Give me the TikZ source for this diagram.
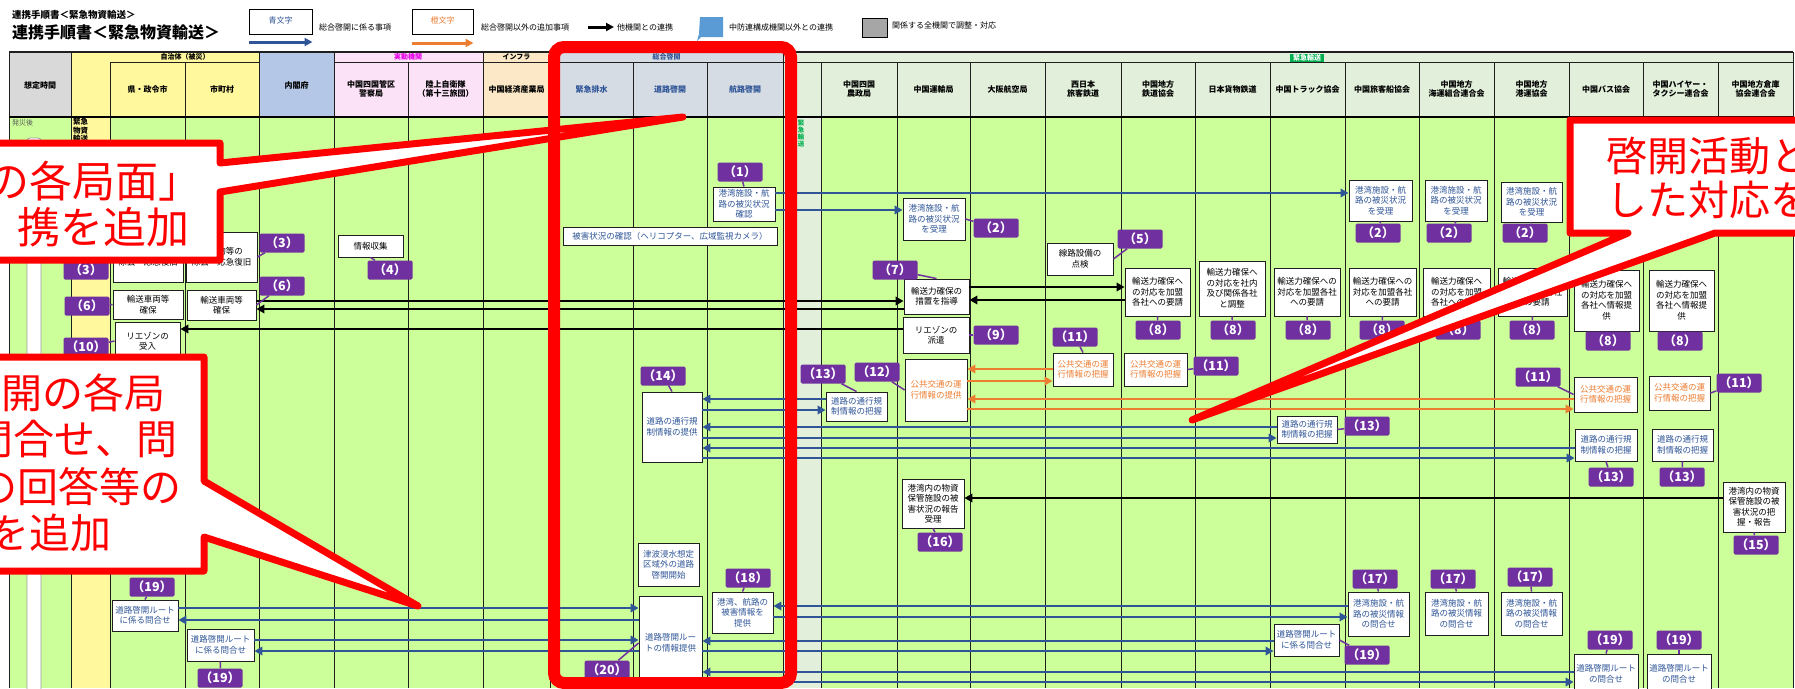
\documentclass[tikz,border=0pt]{standalone}
\usepackage{fontspec}
\setmainfont{Noto Sans CJK JP}
\usetikzlibrary{arrows.meta}
\definecolor{bgreen}{HTML}{CCFF99}
\definecolor{byellow}{HTML}{FFF89C}
\definecolor{hgray}{HTML}{D9D9D9}
\definecolor{hblue}{HTML}{B4C7E7}
\definecolor{hpink}{HTML}{FBE2F7}
\definecolor{horange}{HTML}{FCE8C6}
\definecolor{hsteel}{HTML}{D6DCE4}
\definecolor{hlgreen}{HTML}{E2EFDA}
\definecolor{tblue}{HTML}{2F5597}
\definecolor{torange}{HTML}{ED7D31}
\definecolor{lpurple}{HTML}{7030A0}
\definecolor{gline}{HTML}{1F1F1F}
\definecolor{calred}{HTML}{FF0000}
\definecolor{legblue}{HTML}{5B9BD5}
\definecolor{leggray}{HTML}{A6A6A6}
\definecolor{grplabel}{HTML}{00B050}
\definecolor{magent}{HTML}{E600E6}
\newcommand\bx[7]{\pgfmathsetmacro\bxw{#4-#2}\pgfmathsetmacro\bxh{#5-#3}\pgfmathsetmacro\bxx{(#2+#4)/2}\pgfmathsetmacro\bxy{(#3+#5)/2}\node[bx,text=#6,minimum width=\bxw pt,minimum height=\bxh pt] (#1) at (\bxx,\bxy) {#7};}
\newcommand\lb[3]{\node[lab] (#1) at (#2) {（#3）};}
\begin{document}
\begin{tikzpicture}[x=1pt,y=-1pt,
  bx/.style={draw=gline, fill=white, line width=0.9pt, inner sep=0pt, align=center, font=\fontsize{8.5}{10.5}\selectfont},
  lab/.style={fill=lpurple, text=white, font=\bfseries\fontsize{12.5}{12.5}\selectfont, minimum width=45pt, minimum height=19pt, inner sep=0pt, rounded corners=1.5pt},
  tl/.style={lpurple, line width=1.5pt},
  barr/.style={tblue, line width=2.8pt, -{Triangle[length=8pt,width=8.5pt]}},
  oarr/.style={torange, line width=2.8pt, -{Triangle[length=8pt,width=8.5pt]}},
  karr/.style={black, line width=2.8pt, -{Triangle[length=8pt,width=8.5pt]}},
  hd/.style={font=\bfseries\fontsize{8}{9.5}\selectfont, align=center, inner sep=0pt},
  gl/.style={font=\bfseries\fontsize{7}{7}\selectfont, inner sep=0pt},
  lgt/.style={font=\fontsize{8}{8}\selectfont, inner sep=0pt, anchor=west},
  colline/.style={gline, line width=1pt},
  callout/.style={fill=white, draw=calred, line width=7pt, line join=round},
  ct/.style={text=calred, font=\fontsize{41}{44}\selectfont, inner sep=0pt}]
\useasboundingbox (0,0) rectangle (1795,688);
\clip (0,0) rectangle (1795,688);
\fill[white] (0,0) rectangle (1795,688);

% ---------- title and legend ----------
\node[anchor=west, font=\bfseries\fontsize{9.5}{10}\selectfont, inner sep=0pt] (t1) at (12,15) {連携手順書＜緊急物資輸送＞};
\node[anchor=west, font=\bfseries\fontsize{16}{17}\selectfont, inner sep=0pt] (t2) at (12,32) {連携手順書＜緊急物資輸送＞};
\node[draw=black, line width=1pt, minimum width=63pt, minimum height=25pt, inner sep=0pt, text=tblue, font=\fontsize{8}{8}\selectfont] (lg1) at (280.5,21.5) {\raisebox{3pt}{青文字}};
\draw[tblue, line width=3pt, -{Triangle[length=8pt,width=8pt]}] (lg1.west |- 0,42) -- (lg1.east |- 0,42);
\node[lgt] (lt1) at (319,27) {総合啓開に係る事項};
\node[draw=black, line width=1pt, minimum width=61pt, minimum height=25pt, inner sep=0pt, text=torange, font=\fontsize{8}{8}\selectfont] (lg2) at (442.5,21.5) {\raisebox{3pt}{橙文字}};
\draw[torange, line width=3pt, -{Triangle[length=8pt,width=8pt]}] (lg2.west |- 0,43) -- (lg2.east |- 0,43);
\node[lgt] (lt2) at (481,27) {総合啓開以外の追加事項};
\coordinate (ka1) at (588,27);
\coordinate (ka2) at (614,27);
\draw[black, line width=3pt, -{Triangle[length=8pt,width=8pt]}] (ka1) -- (ka2);
\node[lgt] (lt3) at (617,27) {他機関との連携};
\fill[legblue] (700,17) -- (723,17) -- (723,37) -- (701,37) -- (697,41) -- (699,34) -- cycle;
\node[lgt] (lt4) at (729,27) {中防連構成機関以外との連携};
\node[draw=black, line width=1pt, fill=leggray, minimum width=25pt, minimum height=19pt, inner sep=0pt] (lg3) at (874.5,27.5) {};
\node[lgt] (lt5) at (892,25) {関係する全機関で調整・対応};

% ---------- header fills ----------
\fill[hgray] (9,52) rectangle (71,117);
\fill[byellow] (71,52) rectangle (259,117);
\fill[hblue] (259,52) rectangle (334,117);
\fill[hpink] (334,52) rectangle (483,117);
\fill[horange] (483,52) rectangle (550,117);
\fill[hsteel] (550,52) rectangle (783,117);
\fill[hlgreen] (783,52) rectangle (1793,117);
% ---------- body fills ----------
\fill[bgreen] (9,117) rectangle (71,688);
\fill[byellow] (71,117) rectangle (110,688);
\fill[bgreen] (110,117) rectangle (783,688);
\fill[hlgreen] (783,117) rectangle (821,688);
\fill[bgreen] (821,117) rectangle (1793,688);

% ---------- grid ----------
\foreach \x in {9,71,110,185,259,334,408,483,550,633,707,783,821,897,970,1045,1121,1195,1270,1345,1419,1494,1569,1643,1718,1793}
  \draw[colline] (\x,117) -- (\x,688);
\foreach \x in {9,71,259,334,483,550,783,1793}
  \draw[colline] (\x,52) -- (\x,117);
\foreach \x in {110,185,408,633,707,821,897,970,1045,1121,1195,1270,1345,1419,1494,1569,1643,1718}
  \draw[colline] (\x,62) -- (\x,117);
\draw[gline, line width=1.5pt] (9,52) -- (1793,52);
\draw[colline] (110,62) -- (259,62);
\draw[colline] (334,62) -- (1793,62);
\draw[black, line width=2pt] (9,117) -- (1793,117);

% ---------- header texts ----------
\node[gl] (g1) at (185,57) {自治体（被災）};
\node[gl, text=magent] (g2) at (408,57) {実動機関};
\node[gl] (g3) at (516.5,57) {インフラ};
\node[gl, text=tblue] (g4) at (666.5,57) {総合啓開};
\node[gl, fill=grplabel, text=white, inner xsep=3pt, minimum height=8pt] (g5) at (1307,57.5) {緊急輸送};
\node[hd] (h01) at (40,85) {想定時間};
\node[hd] (h02) at (147.5,89) {県・政令市};
\node[hd] (h03) at (222,89) {市町村};
\node[hd] (h04) at (296.5,85) {内閣府};
\node[hd] (h05) at (371,89) {中国四国管区\\警察局};
\node[hd] (h06) at (445.5,89) {陸上自衛隊\\（第十三旅団）};
\node[hd] (h07) at (516.5,89) {中国経済産業局};
\node[hd, text=tblue] (h08) at (591.5,89) {緊急排水};
\node[hd, text=tblue] (h09) at (670,89) {道路啓開};
\node[hd, text=tblue] (h10) at (745,89) {航路啓開};
\node[hd] (h11) at (859,89) {中国四国\\農政局};
\node[hd] (h12) at (933.5,89) {中国運輸局};
\node[hd] (h13) at (1007.5,89) {大阪航空局};
\node[hd] (h14) at (1083,89) {西日本\\旅客鉄道};
\node[hd] (h15) at (1158,89) {中国地方\\鉄道協会};
\node[hd] (h16) at (1232.5,89) {日本貨物鉄道};
\node[hd] (h17) at (1307.5,89) {中国トラック協会};
\node[hd] (h18) at (1382,89) {中国旅客船協会};
\node[hd] (h19) at (1456.5,89) {中国地方\\海運組合連合会};
\node[hd] (h20) at (1531.5,89) {中国地方\\港運協会};
\node[hd] (h21) at (1606,89) {中国バス協会};
\node[hd] (h22) at (1680.5,89) {中国ハイヤー・\\タクシー連合会};
\node[hd] (h23) at (1755.5,89) {中国地方倉庫\\協会連合会};

% ---------- left columns ----------
\node[font=\fontsize{7}{7}\selectfont, text=black!65, anchor=west, inner sep=0pt] (t0) at (12,123) {発災後};
\draw[fill=white, draw=black!40, line width=0.8pt, rounded corners=3pt] (27,138) rectangle (41,700);
\node[font=\bfseries\fontsize{7.5}{8.5}\selectfont, align=left, anchor=north west, inner sep=0pt] (c2t) at (73,118) {緊急\\物資\\輸送};
\node[font=\bfseries\fontsize{6.5}{7}\selectfont, text=grplabel, align=center, anchor=north, inner sep=0pt] (vt) at (801,120) {緊\\急\\輸\\送};

% ---------- boxes ----------
\bx{B1}{713}{187}{775}{221}{tblue}{港湾施設・航\\路の被災状況\\確認}
\bx{B2a}{903}{198}{965}{240}{tblue}{港湾施設・航\\路の被災状況\\を受理}
\bx{B2b}{1349}{180}{1412}{221}{tblue}{港湾施設・航\\路の被災状況\\を受理}
\bx{B2c}{1425}{180}{1487}{221}{tblue}{港湾施設・航\\路の被災状況\\を受理}
\bx{B2d}{1501}{182}{1562}{222}{tblue}{港湾施設・航\\路の被災状況\\を受理}
\bx{Bh}{563}{227}{777}{245}{tblue}{被害状況の確認（ヘリコプター、広域監視カメラ）}
\bx{B3a}{113}{232}{183}{282}{black}{障害物等の\\除去・応急復旧}
\bx{B3b}{186}{232}{257}{282}{black}{障害物等の\\除去・応急復旧}
\bx{B4}{338}{235}{403}{257}{black}{情報収集}
\bx{B5}{1047}{243}{1113}{275}{black}{線路設備の\\点検}
\bx{B6a}{113}{290}{183}{319}{black}{輸送車両等\\確保}
\bx{B6b}{187}{290}{256}{320}{black}{輸送車両等\\確保}
\bx{B7}{904}{279}{969}{314}{black}{輸送力確保の\\措置を指導}
\bx{B8a}{1125}{268}{1190}{316}{black}{輸送力確保へ\\の対応を加盟\\各社への要請}
\bx{B8b}{1199}{261}{1265}{316}{black}{輸送力確保へ\\の対応を社内\\及び関係各社\\と調整}
\bx{B8c}{1274}{268}{1340}{316}{black}{輸送力確保への\\対応を加盟各社\\への要請}
\bx{B8d}{1349}{268}{1416}{316}{black}{輸送力確保への\\対応を加盟各社\\への要請}
\bx{B8e}{1423}{268}{1490}{316}{black}{輸送力確保へ\\の対応を加盟\\各社への要請}
\bx{B8f}{1498}{268}{1567}{316}{black}{輸送力確保への\\対応を加盟各社\\への要請}
\bx{B8g}{1574}{270}{1639}{331}{black}{輸送力確保へ\\の対応を加盟\\各社へ情報提\\供}
\bx{B8h}{1649}{270}{1714}{331}{black}{輸送力確保へ\\の対応を加盟\\各社へ情報提\\供}
\bx{B9}{903}{317}{969}{353}{black}{リエゾンの\\派遣}
\bx{B10}{115}{322}{180}{360}{black}{リエゾンの\\受入}
\bx{B11a}{1053}{353}{1113}{386}{torange}{公共交通の運\\行情報の把握}
\bx{B11b}{1124}{353}{1187}{386}{torange}{公共交通の運\\行情報の把握}
\bx{B11c}{1574}{377}{1637}{412}{torange}{公共交通の運\\行情報の把握}
\bx{B11d}{1649}{376}{1710}{410}{torange}{公共交通の運\\行情報の把握}
\bx{B12}{905}{359}{967}{421}{torange}{公共交通の運\\行情報の提供}
\bx{B13a}{826}{392}{887}{421}{tblue}{道路の通行規\\制情報の把握}
\bx{B13b}{1277}{416}{1337}{443}{tblue}{道路の通行規\\制情報の把握}
\bx{B13c}{1575}{429}{1637}{461}{tblue}{道路の通行規\\制情報の把握}
\bx{B13d}{1652}{429}{1713}{461}{tblue}{道路の通行規\\制情報の把握}
\bx{B14}{642}{392}{702}{462}{tblue}{道路の通行規\\制情報の提供}
\bx{B15}{1723}{482}{1785}{532}{black}{港湾内の物資\\保管施設の被\\害状況の把\\握・報告}
\bx{B16}{902}{479}{964}{528}{black}{港湾内の物資\\保管施設の被\\害状況の報告\\受理}
\bx{Bts}{638}{543}{699}{586}{tblue}{津波浸水想定\\区域外の道路\\啓開開始}
\bx{B17a}{1348}{592}{1409}{636}{tblue}{港湾施設・航\\路の被災情報\\の問合せ}
\bx{B17b}{1425}{592}{1488}{635}{tblue}{港湾施設・航\\路の被災情報\\の問合せ}
\bx{B17c}{1501}{592}{1562}{635}{tblue}{港湾施設・航\\路の被災情報\\の問合せ}
\bx{B18}{712}{592}{773}{633}{tblue}{港湾、航路の\\被害情報を\\提供}
\bx{B19a}{112}{600}{178}{631}{tblue}{道路啓開ルート\\に係る問合せ}
\bx{B19b}{187}{629}{254}{661}{tblue}{道路啓開ルート\\に係る問合せ}
\bx{B19c}{1274}{624}{1339}{656}{tblue}{道路啓開ルート\\に係る問合せ}
\bx{B19d}{1574}{654}{1638}{694}{tblue}{道路啓開ルート\\の問合せ}
\bx{B19e}{1647}{654}{1711}{694}{tblue}{道路啓開ルート\\の問合せ}
\bx{B20}{639}{596}{702}{690}{tblue}{道路啓開ルー\\トの情報提供}

% ---------- connectors ----------
\draw[barr] (B1.east |- 0,193) -- (B2b.west |- 0,193);
\draw[barr] (B1.east |- 0,210) -- (B2a.west |- 0,210);
\draw[karr] (B6b.east |- 0,301) -- (B7.west |- 0,301);
\draw[karr] (B7.west |- 0,309) -- (B6b.east |- 0,309);
\draw[karr] (B9.west |- 0,329) -- (B10.east |- 0,329);
\draw[karr] (B7.east |- 0,287) -- (B8a.west |- 0,287);
\draw[karr] (B8a.west |- 0,300) -- (B7.east |- 0,300);
\draw[oarr] (B11a.west |- 0,369) -- (B12.east |- 0,369);
\draw[oarr] (B12.east |- 0,381) -- (B11a.west |- 0,381);
\draw[oarr] (B11c.west |- 0,399) -- (B12.east |- 0,399);
\draw[oarr] (B12.east |- 0,409) -- (B11c.west |- 0,409);
\draw[barr] (B13a.west |- 0,399) -- (B14.east |- 0,399);
\draw[barr] (B14.east |- 0,410) -- (B13a.west |- 0,410);
\draw[barr] (B13b.west |- 0,427) -- (B14.east |- 0,427);
\draw[barr] (B14.east |- 0,438) -- (B13b.west |- 0,438);
\draw[barr] (B13c.west |- 0,448) -- (B14.east |- 0,448);
\draw[barr] (B14.east |- 0,458) -- (B13c.west |- 0,458);
\draw[karr] (B15.west |- 0,498) -- (B16.east |- 0,498);
\draw[barr] (B17a.west |- 0,606) -- (B18.east |- 0,606);
\draw[barr] (B18.east |- 0,617) -- (B17a.west |- 0,617);
\draw[barr] (B19a.east |- 0,608) -- (B20.west |- 0,608);
\draw[barr] (B20.west |- 0,620) -- (B19a.east |- 0,620);
\draw[barr] (B19b.east |- 0,640) -- (B20.west |- 0,640);
\draw[barr] (B20.west |- 0,651) -- (B19b.east |- 0,651);
\draw[barr] (B19c.west |- 0,641) -- (B20.east |- 0,641);
\draw[barr] (B20.east |- 0,651) -- (B19c.west |- 0,651);
\draw[barr] (B19d.west |- 0,672) -- (B20.east |- 0,672);
\draw[barr] (B20.east |- 0,682) -- (B19d.west |- 0,682);

% ---------- number labels ----------
\lb{L1}{740,172}{1}
\lb{L2a}{996,228}{2}
\lb{L2b}{1378,233}{2}
\lb{L2c}{1449,233}{2}
\lb{L2d}{1525,233}{2}
\lb{L3a}{86,270}{3}
\lb{L3b}{282,243}{3}
\lb{L4}{390,270}{4}
\lb{L5}{1140,239}{5}
\lb{L6a}{87,306}{6}
\lb{L6b}{282,286}{6}
\lb{L7}{895,270}{7}
\lb{L8a}{1158,330}{8}
\lb{L8b}{1233,330}{8}
\lb{L8c}{1308,330}{8}
\lb{L8d}{1382,330}{8}
\lb{L8e}{1458,330}{8}
\lb{L8f}{1532,330}{8}
\lb{L8g}{1608,341}{8}
\lb{L8h}{1680,341}{8}
\lb{L9}{996,335}{9}
\lb{L10}{86,347}{10}
\lb{L11a}{1075,337}{11}
\lb{L11b}{1216,366}{11}
\lb{L11c}{1538,377}{11}
\lb{L11d}{1739,383}{11}
\lb{L12}{877,372}{12}
\lb{L13a}{823,374}{13}
\lb{L13b}{1367,426}{13}
\lb{L13c}{1611,477}{13}
\lb{L13d}{1682,477}{13}
\lb{L14}{663,376}{14}
\lb{L15}{1756,545}{15}
\lb{L16}{940,542}{16}
\lb{L17a}{1375,579}{17}
\lb{L17b}{1453,579}{17}
\lb{L17c}{1530,577}{17}
\lb{L18}{748,578}{18}
\lb{L19a}{152,587}{19}
\lb{L19b}{220,678}{19}
\lb{L19c}{1367,655}{19}
\lb{L19d}{1610,640}{19}
\lb{L19e}{1679,640}{19}
\lb{L20}{607,670}{20}
\draw[tl] (L1) -- (B1.north);
\draw[tl] (L2a) -- (B2a.east);
\draw[tl] (L2b) -- (B2b.south);
\draw[tl] (L2c) -- (B2c.south);
\draw[tl] (L2d) -- (B2d.south);
\draw[tl] (L3a) -- (B3a.west);
\draw[tl] (L3b) -- (B3b.east);
\draw[tl] (L4) -- (B4.south);
\draw[tl] (L5) -- (B5.east);
\draw[tl] (L6a) -- (B6a.west);
\draw[tl] (L6b) -- (B6b.east);
\draw[tl] (L7) -- (B7.north);
\draw[tl] (L8a) -- (B8a.south);
\draw[tl] (L8b) -- (B8b.south);
\draw[tl] (L8c) -- (B8c.south);
\draw[tl] (L8d) -- (B8d.south);
\draw[tl] (L8e) -- (B8e.south);
\draw[tl] (L8f) -- (B8f.south);
\draw[tl] (L8g) -- (B8g.south);
\draw[tl] (L8h) -- (B8h.south);
\draw[tl] (L9) -- (B9.east);
\draw[tl] (L10) -- (B10.west);
\draw[tl] (L11a) -- (B11a.north);
\draw[tl] (L11b) -- (B11b.east);
\draw[tl] (L11c) -- (B11c.west);
\draw[tl] (L11d) -- (B11d.east);
\draw[tl] (L12) -- (B12.west);
\draw[tl] (L13a) -- (B13a.north);
\draw[tl] (L13b) -- (B13b.east);
\draw[tl] (L13c) -- (B13c.south);
\draw[tl] (L13d) -- (B13d.south);
\draw[tl] (L14) -- (B14.north);
\draw[tl] (L15) -- (B15.south);
\draw[tl] (L16) -- (B16.south);
\draw[tl] (L17a) -- (B17a.north);
\draw[tl] (L17b) -- (B17b.north);
\draw[tl] (L17c) -- (B17c.north);
\draw[tl] (L18) -- (B18.north);
\draw[tl] (L19a) -- (B19a.north);
\draw[tl] (L19b) -- (B19b.south);
\draw[tl] (L19c) -- (B19c.east);
\draw[tl] (L19d) -- (B19d.north);
\draw[tl] (L19e) -- (B19e.north);
\draw[tl] (L20) -- (B20.west);

% ---------- callouts ----------
\draw[callout] (-20,143) -- (220,143) -- (220,163) -- (683,117) -- (220,192) -- (220,260) -- (-20,260) -- cycle;
\node[ct, font=\fontsize{43}{46}\selectfont, anchor=west] (c1a) at (-14,181) {の各局面」};
\node[ct, font=\fontsize{43}{46}\selectfont, anchor=east] (c1b) at (190,227) {携を追加};
\draw[callout] (-20,357) -- (204,357) -- (204,481) -- (418,606) -- (204,537) -- (204,571) -- (-20,571) -- cycle;
\node[ct, anchor=east] (c2a) at (166,393) {開の各局};
\node[ct, anchor=east] (c2b) at (178,439) {問合せ、問};
\node[ct, anchor=east] (c2c) at (182,487) {の回答等の};
\node[ct, anchor=east] (c2d) at (112,533) {を追加};
\draw[callout] (1815,120) -- (1570,120) -- (1570,233) -- (1628,233) -- (1192,420) -- (1715,233) -- (1815,233) -- cycle;
\node[ct, anchor=west] (c3a) at (1606,156) {啓開活動と};
\node[ct, anchor=west] (c3b) at (1606,200) {した対応を};

% ---------- red frame ----------
\draw[calred, line width=12pt, rounded corners=10pt] (554,47) rectangle (791,683);
\end{tikzpicture}
\end{document}
